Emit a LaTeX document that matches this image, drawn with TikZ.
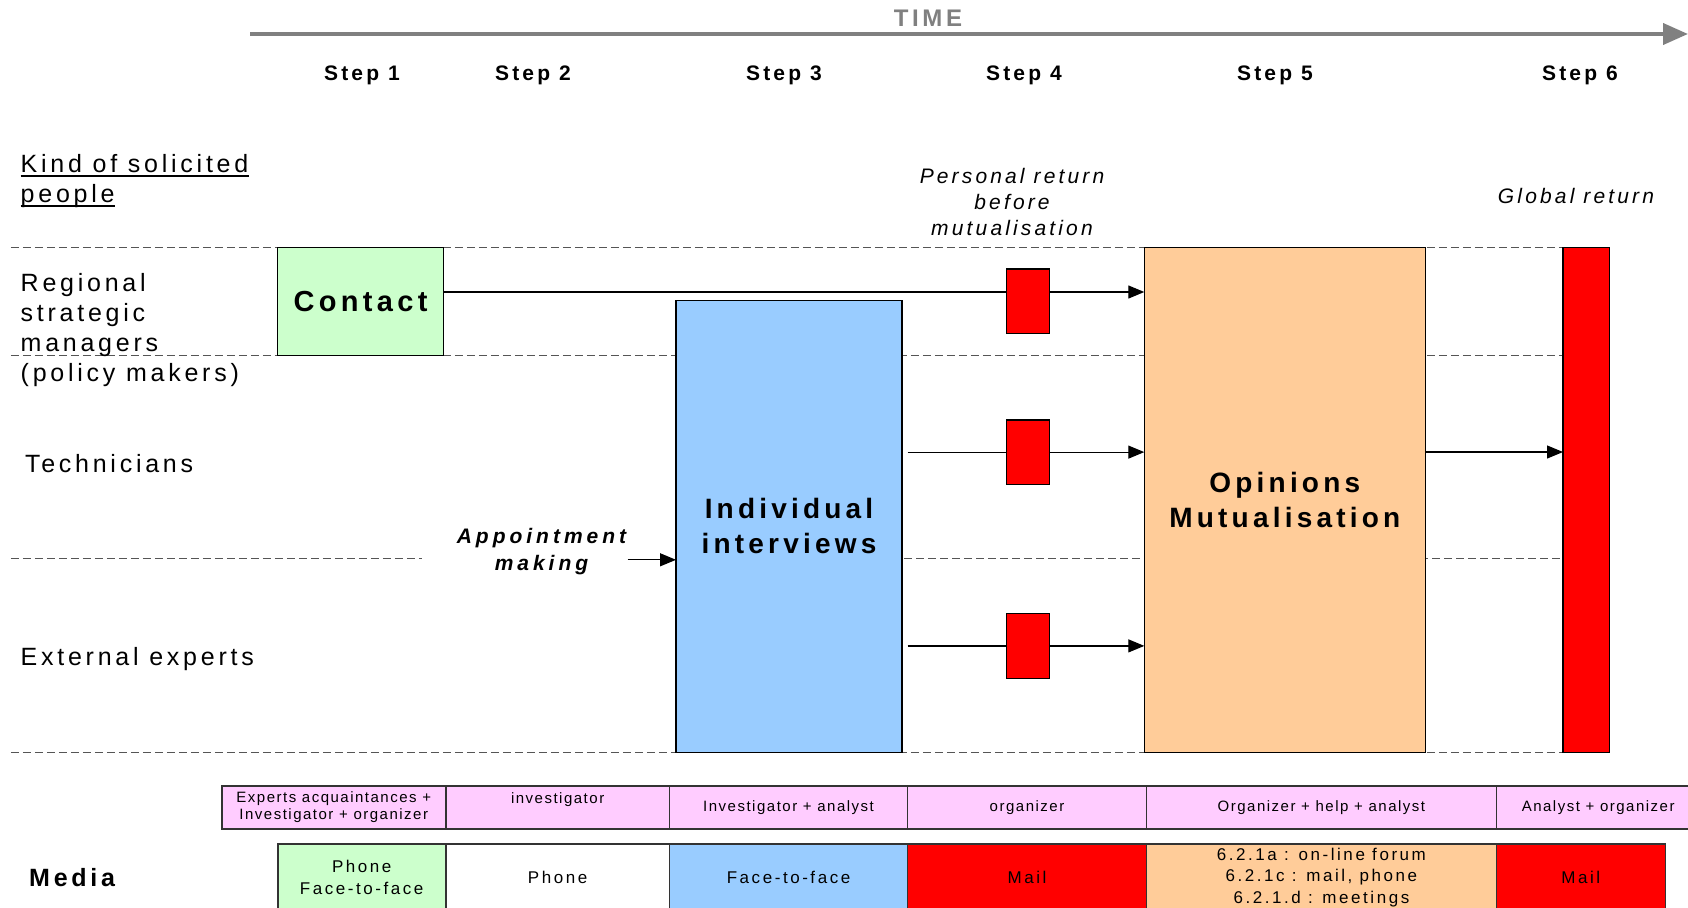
\documentclass[tikz,border=0pt]{standalone}
\usepackage{fontspec}
\setmainfont{Liberation Sans}[LetterSpace=15]
\newfontfamily\cellfont{Liberation Sans}[LetterSpace=10]
\newfontfamily\widefont{Liberation Sans}[LetterSpace=19]
\usetikzlibrary{arrows.meta}
\definecolor{timegray}{HTML}{808080}
\definecolor{dashgray}{HTML}{555555}
\definecolor{cgreen}{HTML}{CCFFCC}
\definecolor{cblue}{HTML}{99CCFF}
\definecolor{corange}{HTML}{FFCC99}
\definecolor{cred}{HTML}{FF0000}
\definecolor{cpink}{HTML}{FFCCFF}
\definecolor{cellborder}{HTML}{333333}
\pgfdeclarelayer{bg}
\pgfsetlayers{bg,main}
\begin{document}
\begin{tikzpicture}[x=1pt,y=-1pt,
  box/.style={draw=black, line width=1.4pt, inner sep=0pt, outer sep=0pt},
  bigtxt/.style={font=\fontsize{28}{35}\selectfont\bfseries, align=center},
  steplbl/.style={font=\fontsize{21}{25}\selectfont\bfseries},
  lbl/.style={inner sep=0pt, font=\fontsize{25}{30}\selectfont},
  note/.style={font=\fontsize{21}{26}\selectfont\itshape, align=center},
  gridline/.style={draw=dashgray, line width=1.2pt, dash pattern=on 8pt off 4pt},
  conn/.style={line width=1.2pt},
  arr/.style={conn, -{Triangle[length=16pt,width=13pt]}},
  timeline/.style={draw=timegray, line width=4pt, -{Triangle[length=25pt,width=21pt]}},
  rolecell/.style={draw=cellborder, line width=1.6pt, fill=cpink, inner sep=0pt,
    minimum height=43.2pt, align=center, font=\cellfont\fontsize{15}{17}\selectfont},
  mediacell/.style={draw=cellborder, line width=1.6pt, inner sep=0pt,
    minimum height=67pt, align=center, font=\fontsize{17}{21.5}\selectfont}]
\useasboundingbox (0,0) rectangle (1688,907);
\clip (0,0) rectangle (1688,907);

% time axis
\node[font=\fontsize{24}{28}\selectfont\bfseries, text=timegray] (time) at (928,18) {TIME};
\coordinate (t0) at (250,34);
\coordinate (t1) at (1688,34);
\draw[timeline] (t0) -- (t1);

% steps
\foreach \n/\x in {1/362,2/533,3/784,4/1024,5/1275,6/1580}
  \node[steplbl] (step\n) at (\x,75) {Step \n};

% row headings
\node[lbl, anchor=base west] (kind1) at (20.5,172) {Kind of solicited};
\node[lbl, anchor=base west] (kind2) at (20.5,202) {people};
\draw[line width=2pt] ([yshift=-3.5pt]kind1.base west) -- ([yshift=-3.5pt]kind1.base east);
\draw[line width=2pt] ([yshift=-3.5pt]kind2.base west) -- ([yshift=-3.5pt]kind2.base east);
\node[lbl, anchor=west, align=left] (regional) at (20.5,330) {Regional\\strategic\\managers\\(policy makers)};
\node[lbl, anchor=west] (tech) at (24.8,464) {Technicians};
\node[lbl, anchor=west] (ext) at (20.5,659.5) {External experts};
\node[lbl, anchor=west, font=\fontsize{25}{30}\selectfont\bfseries] (media) at (29,877.4) {Media};

% annotations
\node[note] (perso) at (1012,202) {Personal return\\before\\mutualisation};
\node[note] (glob) at (1576,196) {Global return};
\node[note, font=\widefont\fontsize{21}{27}\selectfont\bfseries\itshape] (appt) at (541.5,552) {Appointment\\making};

% process boxes
\node[box, fill=cgreen, minimum width=165.8pt, minimum height=107.6pt,
  font=\fontsize{29}{35}\selectfont\bfseries] (contact) at (360.6,301.4) {Contact};
\node[box, fill=cblue, minimum width=226pt, minimum height=452.2pt, bigtxt] (interv) at (789,526.4) {Individual\\interviews};
\node[box, fill=cred, minimum width=43pt, minimum height=64.6pt] (red1) at (1028,301.4) {};
\node[box, fill=cred, minimum width=43pt, minimum height=64.6pt] (red2) at (1028,452.1) {};
\node[box, fill=cred, minimum width=43pt, minimum height=64.6pt] (red3) at (1028,645.9) {};
\node[box, fill=corange, minimum width=281pt, minimum height=505pt, bigtxt] (opin) at (1284.8,500) {Opinions\\Mutualisation};
\node[box, fill=cred, minimum width=46.4pt, minimum height=505pt] (rbar) at (1586.2,500) {};

% dashed separators between kinds of people
\begin{pgfonlayer}{bg}
  \coordinate (g1) at (10.8,247.6);
  \coordinate (g2) at (10.8,355.2);
  \coordinate (g3) at (10.8,558.7);
  \coordinate (g3b) at (422,558.7);
  \coordinate (g3c) at (676,558.7);
  \coordinate (g4) at (10.8,752.5);
  \draw[gridline] (g1) -- (rbar.west |- g1);
  \draw[gridline] (g2) -- (rbar.west |- g2);
  \draw[gridline] (g3) -- (g3b);
  \draw[gridline] (g3c) -- (rbar.west |- g3c);
  \draw[gridline] (g4) -- (rbar.west |- g4);
\end{pgfonlayer}

% connectors
\coordinate (lvA) at (0,292);
\draw[conn] (contact.east |- lvA) -- (red1.west |- lvA);
\draw[arr] (red1.east |- lvA) -- (opin.west |- lvA);
\path (interv.east) ++(5.5,0) coordinate (ie);
\draw[conn] (ie |- red2.west) -- (red2.west);
\draw[arr] (red2.east) -- (opin.west |- red2.east);
\draw[conn] (ie |- red3.west) -- (red3.west);
\draw[arr] (red3.east) -- (opin.west |- red3.east);
\coordinate (lvB) at (0,452);
\draw[arr] (opin.east |- lvB) -- (rbar.west |- lvB);
\coordinate (apstart) at (627.6,559.8);
\draw[arr] (apstart) -- (interv.west |- apstart);

% who is involved
\node[rolecell, minimum width=223.9pt] (role1) at (333.75,807.4) {Experts acquaintances +\\Investigator + organizer};
\node[rolecell, minimum width=223.9pt] (role2) at (557.65,807.4) {};
\node[font=\cellfont\fontsize{15}{17}\selectfont] (role2t) at (557.65,799.5) {investigator};
\node[rolecell, minimum width=237.9pt] (role3) at (788.55,807.4) {Investigator + analyst};
\node[rolecell, minimum width=239pt] (role4) at (1027,807.4) {organizer};
\node[rolecell, minimum width=349.8pt] (role5) at (1321.4,807.4) {Organizer + help + analyst};
\node[rolecell, minimum width=203.7pt] (role6) at (1598.15,807.4) {Analyst + organizer};

% media used
\node[mediacell, fill=cgreen, minimum width=168pt] (med1) at (361.7,877.5) {Phone\\Face-to-face};
\node[mediacell, fill=white, minimum width=223.9pt] (med2) at (557.65,877.5) {Phone};
\node[mediacell, fill=cblue, minimum width=237.9pt] (med3) at (788.55,877.5) {Face-to-face};
\node[mediacell, fill=cred, minimum width=239pt] (med4) at (1027,877.5) {Mail};
\node[mediacell, fill=corange, minimum width=349.8pt] (med5) at (1321.4,877.5) {6.2.1a : on-line forum\\6.2.1c : mail, phone\\6.2.1.d : meetings};
\node[mediacell, fill=cred, minimum width=169pt] (med6) at (1580.8,877.5) {Mail};
\end{tikzpicture}
\end{document}
